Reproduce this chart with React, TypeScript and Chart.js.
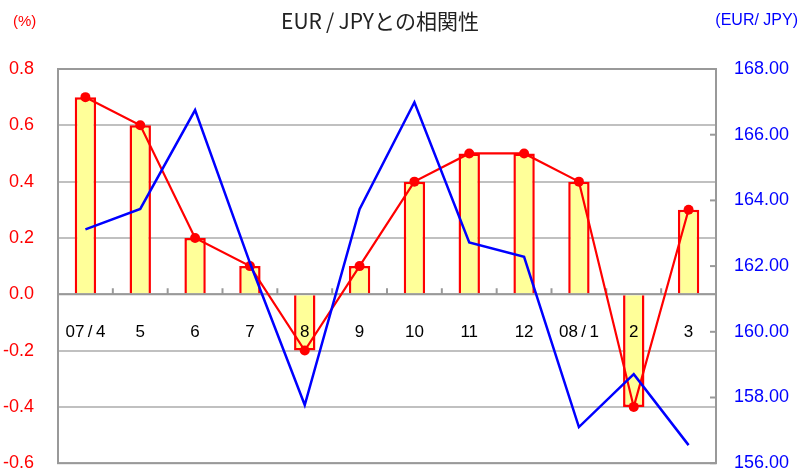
import React, { useEffect, useRef } from "react";
import { Chart, registerables } from "chart.js";

Chart.register(...registerables);

const categories = ["07\u2009/\u20094", "5", "6", "7", "8", "9", "10", "11", "12", "08\u2009/\u20091", "2", "3"];
const correlation = [0.7, 0.6, 0.2, 0.1, -0.2, 0.1, 0.4, 0.5, 0.5, 0.4, -0.4, 0.3];
const eurJpy = [163.12, 163.74, 166.75, 162.1, 157.77, 163.73, 166.99, 162.72, 162.28, 157.1, 158.71, 156.55];

const titleText = "EUR\u2009/\u2009JPYとの相関性";
const leftUnit = "(%)";
const rightUnit = "(EUR/ JPY)";

const FONT = "'Liberation Sans', Arial, sans-serif";

const decorPlugin = {
  id: "decor",
  beforeDatasetsDraw(chart: any) {
    const { ctx, chartArea } = chart;
    const x = chart.scales.x;
    const y = chart.scales.y;
    const y2 = chart.scales.y2;
    const { left, right } = chartArea;
    ctx.save();
    const y0 = y.getPixelForValue(0);
    ctx.strokeStyle = "#999999";
    ctx.lineWidth = 2;
    ctx.beginPath();
    ctx.moveTo(left, y0);
    ctx.lineTo(right, y0);
    ctx.stroke();
    const n = categories.length;
    for (let i = 1; i < n; i++) {
      const px = (x.getPixelForValue(i - 1) + x.getPixelForValue(i)) / 2;
      ctx.beginPath();
      ctx.moveTo(px, y0);
      ctx.lineTo(px, y0 - 6);
      ctx.stroke();
    }
    for (const t of y2.ticks) {
      const py = y2.getPixelForValue(t.value);
      ctx.beginPath();
      ctx.moveTo(right - 6, py);
      ctx.lineTo(right, py);
      ctx.stroke();
    }
    ctx.restore();
  },
  afterDatasetDraw(chart: any, args: any) {
    if (args.index !== 2) return;
    const { ctx } = chart;
    const x = chart.scales.x;
    const y = chart.scales.y;
    const y0 = y.getPixelForValue(0);
    ctx.save();
    ctx.fillStyle = "#000000";
    ctx.font = `17px ${FONT}`;
    ctx.textAlign = "center";
    ctx.textBaseline = "middle";
    categories.forEach((c, i) => {
      ctx.fillText(c, x.getPixelForValue(i), y0 + 38);
    });
    ctx.restore();
  },
  afterDraw(chart: any) {
    const { ctx, chartArea } = chart;
    const { left, right, top, bottom } = chartArea;
    ctx.save();
    ctx.strokeStyle = "#999999";
    ctx.lineWidth = 2;
    ctx.strokeRect(left, top, right - left, bottom - top);
    ctx.textBaseline = "middle";
    ctx.fillStyle = "#222222";
    ctx.font = `21px 'Noto Sans CJK JP', ${FONT}`;
    ctx.textAlign = "center";
    ctx.fillText(titleText, 380, 21);
    ctx.fillStyle = "#ff0000";
    ctx.font = `15px ${FONT}`;
    ctx.textAlign = "left";
    ctx.fillText(leftUnit, 13, 22);
    ctx.fillStyle = "#0000ff";
    ctx.font = `16px ${FONT}`;
    ctx.textAlign = "right";
    ctx.fillText(rightUnit, 798, 21);
    ctx.restore();
  },
};

export default function App() {
  const ref = useRef<HTMLCanvasElement | null>(null);
  useEffect(() => {
    if (!ref.current) return;
    const chart = new Chart(ref.current, {
      type: "bar",
      data: {
        labels: categories,
        datasets: [
          {
            type: "line",
            label: "EUR/JPY",
            data: eurJpy,
            yAxisID: "y2",
            borderColor: "#0000ff",
            borderWidth: 2.5,
            pointRadius: 0,
            tension: 0,
            order: 0,
          },
          {
            type: "line",
            label: "相関係数",
            data: correlation,
            yAxisID: "y",
            borderColor: "#ff0000",
            backgroundColor: "#ff0000",
            borderWidth: 2.2,
            pointRadius: 5,
            pointBackgroundColor: "#ff0000",
            pointBorderWidth: 0,
            tension: 0,
            order: 1,
          },
          {
            type: "bar",
            label: "相関",
            data: correlation,
            yAxisID: "y",
            backgroundColor: "#ffff99",
            borderColor: "#ff0000",
            borderWidth: 2.5,
            barPercentage: 0.39,
            categoryPercentage: 1,
            order: 2,
          },
        ],
      },
      options: {
        responsive: false,
        maintainAspectRatio: false,
        animation: false,
        devicePixelRatio: 1,
        layout: { padding: { top: 69, bottom: 9, left: 0, right: 0 } },
        plugins: {
          legend: { display: false },
          tooltip: { enabled: false },
          title: { display: false },
        },
        scales: {
          x: {
            display: false,
            offset: true,
          },
          y: {
            position: "left",
            min: -0.6,
            max: 0.8,
            afterFit: (s: any) => {
              s.width = 58;
            },
            ticks: {
              stepSize: 0.2,
              color: "#ff0000",
              font: { size: 18, family: FONT },
              padding: 24,
              callback: (v: any) => Number(v).toFixed(1),
            },
            grid: {
              drawTicks: false,
              color: "#c0c0c0",
              lineWidth: 2,
            },
            border: { display: false },
          },
          y2: {
            position: "right",
            min: 156,
            max: 168,
            afterFit: (s: any) => {
              s.width = 84;
            },
            ticks: {
              stepSize: 2,
              color: "#0000ff",
              font: { size: 18, family: FONT },
              padding: 18,
              callback: (v: any) => Number(v).toFixed(2),
            },
            grid: { display: false, drawTicks: false },
            border: { display: false },
          },
        },
      },
      plugins: [decorPlugin],
    });
    return () => chart.destroy();
  }, []);
  return (
    <div style={{ position: "fixed", left: 0, top: 0, width: 800, height: 472, overflow: "hidden", background: "#fff" }}>
      <canvas ref={ref} width={800} height={498} style={{ display: "block", width: 800, height: 498 }} />
    </div>
  );
}
